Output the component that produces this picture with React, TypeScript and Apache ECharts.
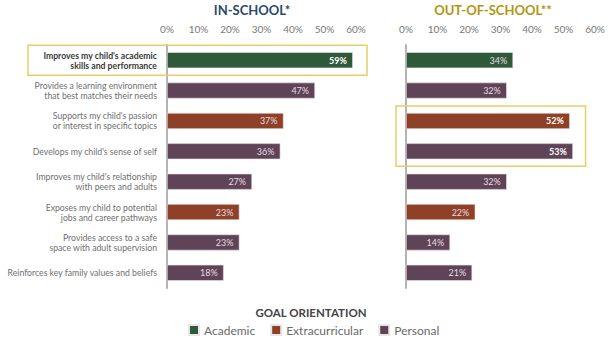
import React, { useEffect, useRef } from "react";
import * as echarts from "echarts";

const categories = [
  "Improves my child's academic\nskills and performance",
  "Provides a learning environment\nthat best matches their needs",
  "Supports my child's passion\nor interest in specific topics",
  "Develops my child's sense of self",
  "Improves my child's relationship\nwith peers and adults",
  "Exposes my child to potential\njobs and career pathways",
  "Provides access to a safe\nspace with adult supervision",
  "Reinforces key family values and beliefs",
];
const orientation = ["Academic", "Personal", "Extracurricular", "Personal", "Personal", "Extracurricular", "Personal", "Personal"];
const inSchool = [59, 47, 37, 36, 27, 23, 23, 18];
const outOfSchool = [34, 32, 52, 53, 32, 22, 14, 21];
const inSchoolHighlight = [0];
const outOfSchoolHighlight = [2, 3];
const groups = ["Academic", "Extracurricular", "Personal"];
const groupColors: Record<string, string> = {
  Academic: "#2f5a3a",
  Extracurricular: "#8f4128",
  Personal: "#5f4356",
};
const xTicks = { min: 0, max: 60, interval: 10 };

const FONT = "Lato, 'Noto Sans', sans-serif";

export default function App() {
  const ref = useRef<HTMLDivElement>(null);
  useEffect(() => {
    if (!ref.current) return;
    const chart = echarts.init(ref.current, undefined, { renderer: "svg" });

    const makeSeries = (values: number[], highlight: number[], gi: number) =>
      groups.map((g) => ({
        name: g,
        type: "bar",
        stack: "s" + gi,
        xAxisIndex: gi,
        yAxisIndex: gi,
        barWidth: 16,
        itemStyle: { color: groupColors[g], borderColor: "#e9e4e8", borderWidth: 0.6 },
        data: values.map((v, i) => {
          if (orientation[i] !== g) return null;
          const hl = highlight.includes(i);
          return {
            value: v,
            label: {
              fontWeight: hl ? "bold" : "normal",
              color: hl ? "#ffffff" : "#e6dde3",
            },
          };
        }),
        label: {
          show: true,
          position: "insideRight",
          distance: 6,
          fontSize: 9,
          fontFamily: FONT,
          formatter: "{c}%",
        },
      }));

    const xAxisBase = (gi: number) => ({
      type: "value",
      gridIndex: gi,
      position: "top",
      ...xTicks,
      axisLine: { show: false },
      axisTick: { show: false },
      splitLine: { show: false },
      axisLabel: { formatter: "{value}%", color: "#777", fontSize: 10, fontFamily: FONT, margin: 11 },
    });
    const yAxisBase = (gi: number) => ({
      type: "category",
      gridIndex: gi,
      inverse: true,
      data: categories,
      axisLine: { show: true, lineStyle: { color: "#b4b4b4", width: 2 } },
      axisTick: { show: false },
      axisLabel: gi === 0
        ? {
            show: true,
            margin: 10,
            fontSize: 8.7,
            lineHeight: 10,
            fontFamily: FONT,
            color: "#6f6f6f",
            align: "right",
            formatter: (v: string, i: number) =>
              inSchoolHighlight.includes(i)
                ? v.split("\n").map((s) => "{b|" + s + "}").join("\n")
                : v,
            rich: { b: { fontWeight: "bold", color: "#3a3a3a", fontSize: 8.7, lineHeight: 10, fontFamily: FONT } },
          }
        : { show: false },
    });

    chart.setOption({
      animation: false,
      grid: [
        { left: 167, width: 189, top: 45, height: 243 },
        { left: 406, width: 189, top: 45, height: 243 },
      ],
      xAxis: [xAxisBase(0), xAxisBase(1)],
      yAxis: [yAxisBase(0), yAxisBase(1)],
      legend: {
        data: groups,
        left: 183,
        top: 319,
        icon: "rect",
        itemWidth: 10,
        itemHeight: 10,
        itemGap: 15,
        textStyle: { color: "#6a6a6a", fontSize: 12, fontFamily: FONT },
        selectedMode: false,
      },
      series: [...makeSeries(inSchool, inSchoolHighlight, 0), ...makeSeries(outOfSchool, outOfSchoolHighlight, 1)],
    });

    // highlight boxes computed from the axes
    const box = (gi: number, rows: number[], leftPx: number, rightVal: number) => {
      const top = chart.convertToPixel({ gridIndex: gi } as any, [0, rows[0]]) as number[];
      const bot = chart.convertToPixel({ gridIndex: gi } as any, [0, rows[rows.length - 1]]) as number[];
      const right = chart.convertToPixel({ gridIndex: gi } as any, [rightVal, 0]) as number[];
      const y0 = top[1] - 15;
      const y1 = bot[1] + 15;
      return {
        type: "rect",
        shape: { x: leftPx, y: y0, width: right[0] - leftPx, height: y1 - y0 },
        style: { fill: "none", stroke: "#e6cf6a", lineWidth: 1.5 },
        z: 10,
      };
    };
    const p0 = chart.convertToPixel({ gridIndex: 1 } as any, [0, 0]) as number[];

    chart.setOption({
      graphic: [
        box(0, inSchoolHighlight, 28, 63.5),
        box(1, outOfSchoolHighlight, p0[0] - 10, 57),
        {
          type: "text",
          x: 252,
          y: 10,
          style: { text: "IN-SCHOOL*", fill: "#2b4a6b", font: "bold 13px " + FONT, textAlign: "center", textVerticalAlign: "middle" },
        },
        {
          type: "text",
          x: 493,
          y: 10,
          style: { text: "OUT-OF-SCHOOL**", fill: "#b3950f", font: "bold 13px " + FONT, textAlign: "center", textVerticalAlign: "middle" },
        },
        {
          type: "text",
          x: 311,
          y: 312,
          style: { text: "GOAL ORIENTATION", fill: "#444", font: "bold 11.5px " + FONT, textAlign: "center", textVerticalAlign: "middle" },
        },
      ],
    });

    return () => chart.dispose();
  }, []);
  return <div ref={ref} style={{ width: 613, height: 350, position: "absolute", left: 0, top: 0 }} />;
}
